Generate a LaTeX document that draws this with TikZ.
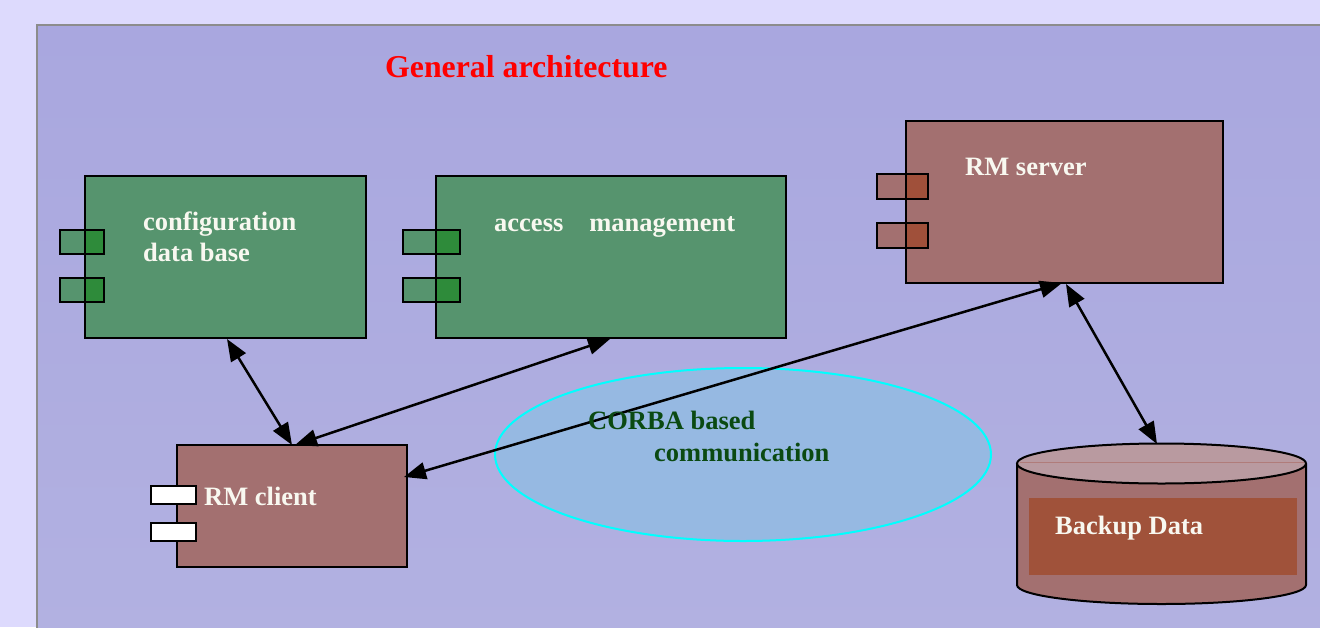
\documentclass[tikz,border=0pt]{standalone}
\usepackage{fontspec}
\setmainfont{Liberation Serif}
\usetikzlibrary{arrows.meta,calc,shapes.geometric}
\definecolor{outerbg}{HTML}{DDDAFD}
\definecolor{paneltop}{HTML}{A9A7DF}
\definecolor{panelbot}{HTML}{B2B1E1}
\definecolor{panelborder}{HTML}{8C8C8C}
\definecolor{boxgreen}{HTML}{56946E}
\definecolor{tabgreen}{HTML}{2E8B3A}
\definecolor{boxbrown}{HTML}{A37070}
\definecolor{tabbrown}{HTML}{A0503A}
\definecolor{cyltop}{HTML}{B99AA0}
\definecolor{cylline}{HTML}{B07C7A}
\definecolor{cylinner}{HTML}{A0523A}
\definecolor{ellfill}{HTML}{96B9E2}
\definecolor{ellline}{HTML}{00FFFF}
\definecolor{textgreen}{HTML}{0B4A12}
\definecolor{labelwhite}{HTML}{F8F8F0}
% tab: x1, box edge x, x2, y1, y2, outer colour, inner colour
\newcommand{\comptab}[7]{%
  \fill[#6] (#1,#4) rectangle (#2,#5);
  \fill[#7] (#2,#4) rectangle (#3,#5);
  \draw[tabline] (#1,#4) rectangle (#3,#5);
  \draw[tabline] (#2,#4) -- (#2,#5);}
\begin{document}
\begin{tikzpicture}[x=1pt,y=-1pt,
  comp/.style={draw=black,line width=2pt,inner sep=0pt,outer sep=0pt,anchor=north west},
  lbl/.style={anchor=base west,inner sep=0pt,text=labelwhite,font=\fontsize{26.5}{32}\selectfont\bfseries},
  link/.style={line width=2.5pt,{Triangle[length=22pt,width=17pt]}-{Triangle[length=22pt,width=17pt]}},
  tabline/.style={draw=black,line width=1.7pt}
]
\useasboundingbox (0,0) rectangle (1320,627);
\fill[outerbg] (0,0) rectangle (1320,627);
\shade[top color=paneltop,bottom color=panelbot] (37,25) rectangle (1330,640);
\draw[panelborder,line width=2pt] (37,640) -- (37,25) -- (1330,25);

% components
\node[comp,fill=boxgreen,minimum width=281pt,minimum height=162pt] (cdb) at (85,176) {};
\comptab{60}{85}{104}{230}{254}{boxgreen}{tabgreen}
\comptab{60}{85}{104}{278}{302}{boxgreen}{tabgreen}

\node[comp,fill=boxgreen,minimum width=350pt,minimum height=162pt] (acc) at (436,176) {};
\comptab{403}{436}{460}{230}{254}{boxgreen}{tabgreen}
\comptab{403}{436}{460}{278}{302}{boxgreen}{tabgreen}

\node[comp,fill=boxbrown,minimum width=317pt,minimum height=162pt] (srv) at (906,121) {};
\comptab{877}{906}{928}{174}{199}{boxbrown}{tabbrown}
\comptab{877}{906}{928}{223}{248}{boxbrown}{tabbrown}

\node[comp,fill=boxbrown,minimum width=230pt,minimum height=122pt] (cli) at (177,445) {};
\draw[tabline,fill=white] (151,486) rectangle (196,504);
\draw[tabline,fill=white] (151,523) rectangle (196,541);

% CORBA ellipse
\node[ellipse,draw=ellline,fill=ellfill,line width=2pt,inner sep=0pt,
      minimum width=496pt,minimum height=173pt] (corba) at (743,454.5) {};

% cylinder
\path[fill=boxbrown,draw=black,line width=2pt] (1017,463.5) -- (1017,585)
   arc[start angle=180,end angle=0,x radius=144.5,y radius=19] -- (1306,463.5);
\draw[fill=cyltop,line width=2pt] (1161.5,463.5) ellipse[x radius=144.5,y radius=20];
\draw[cylline,line width=0.8pt] (1020,462) -- (1304,462);
\fill[cylinner] (1029,498) rectangle (1297,575);
\coordinate (cyl) at (1157,444);

% connectors
\draw[link] ($(cdb.south west)+(142,1)$) -- ($(cli.north west)+(115,0)$);
\draw[link] ($(acc.south west)+(174,1)$) -- ($(cli.north west)+(118,0)$);
\draw[link] ($(srv.south west)+(156,0)$) -- ($(cli.north east)+(-3,32)$);
\draw[link] ($(srv.south west)+(160,1)$) -- (cyl);

% labels
\node[anchor=base west,inner sep=0pt,text=red,font=\fontsize{31.8}{38}\selectfont\bfseries] (title) at (385,77) {General architecture};
\node[lbl] (cdbl1) at (143,230) {configuration};
\node[lbl] (cdbl2) at (143,261) {data base};
\node[lbl] (accl) at (494,231) {access\hspace{26pt}management};
\node[lbl] (srvl) at (965,175) {RM server};
\node[lbl] (clil) at (204,505) {RM client};
\node[lbl,text=textgreen] (corbal1) at (588,429) {CORBA based};
\node[lbl,text=textgreen] (corbal2) at (654,461) {communication};
\node[lbl] (backl) at (1055,534) {Backup Data};
\end{tikzpicture}
\end{document}
